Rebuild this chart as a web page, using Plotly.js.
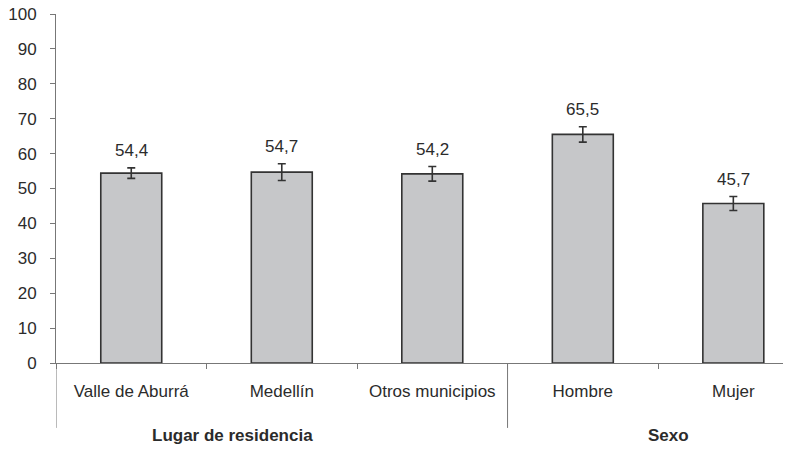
<!DOCTYPE html>
<html>
<head>
<meta charset="utf-8">
<script src="https://cdn.plot.ly/plotly-3.0.1.min.js"></script>
<style>html,body{margin:0;padding:0;background:#fff;}#chart{width:801px;height:450px;}</style>
</head>
<body>
<div id="chart"></div>
<script>
var categories = ["Valle de Aburrá", "Medellín", "Otros municipios", "Hombre", "Mujer"];
var values = [54.4, 54.7, 54.2, 65.5, 45.7];
var errors = [1.5, 2.4, 2.1, 2.2, 2.0];
var valueLabels = ["54,4", "54,7", "54,2", "65,5", "45,7"];
var groups = ["Lugar de residencia", "Sexo"];
var yTicks = [0, 10, 20, 30, 40, 50, 60, 70, 80, 90, 100];

var font = {family: "Liberation Sans, Arial, sans-serif", size: 17, color: "#2b2b2b"};

var trace = {
  type: "bar",
  x: categories,
  y: values,
  width: 0.405,
  marker: {color: "#c6c7c9", line: {color: "#333", width: 1.6}},
  error_y: {type: "data", array: errors, visible: true, color: "#333", thickness: 1.6, width: 4},
  hoverinfo: "none"
};

var annotations = categories.map(function (c, i) {
  return {x: c, y: values[i] + errors[i], xref: "x", yref: "y", text: valueLabels[i],
    showarrow: false, yanchor: "bottom", yshift: 6, font: font};
});
annotations.push({x: 0.67, y: -0.207, xref: "x", yref: "paper", text: "<b>" + groups[0] + "</b>",
  showarrow: false, yanchor: "middle", font: font});
annotations.push({x: 3.57, y: -0.207, xref: "x", yref: "paper", text: "<b>" + groups[1] + "</b>",
  showarrow: false, yanchor: "middle", font: font});

var shapes = [
  {type: "line", xref: "x", yref: "paper", x0: -0.5, x1: -0.5, y0: 0, y1: -0.186, line: {color: "#777", width: 1}},
  {type: "line", xref: "x", yref: "paper", x0: 2.5, x1: 2.5, y0: 0, y1: -0.186, line: {color: "#777", width: 1}}
];

var layout = {
  width: 801, height: 450,
  margin: {l: 56, r: 18, t: 14, b: 87},
  paper_bgcolor: "#fff", plot_bgcolor: "#fff",
  showlegend: false,
  font: font,
  xaxis: {
    type: "category", range: [-0.5, 4.33], showline: true, linecolor: "#777", linewidth: 1,
    ticks: "outside", tickson: "boundaries", ticklen: 5, tickcolor: "#777",
    showgrid: false, zeroline: false, ticklabelstandoff: 13, tickfont: font, fixedrange: true
  },
  yaxis: {
    range: [0, 100], tickvals: yTicks, ticktext: yTicks.map(String),
    showline: true, linecolor: "#777", linewidth: 1,
    ticks: "outside", ticklen: 5, tickcolor: "#777",
    showgrid: false, zeroline: false, ticklabelstandoff: 10, tickfont: font, fixedrange: true
  },
  annotations: annotations,
  shapes: shapes
};

Plotly.newPlot("chart", [trace], layout, {displayModeBar: false, staticPlot: true});
</script>
</body>
</html>
